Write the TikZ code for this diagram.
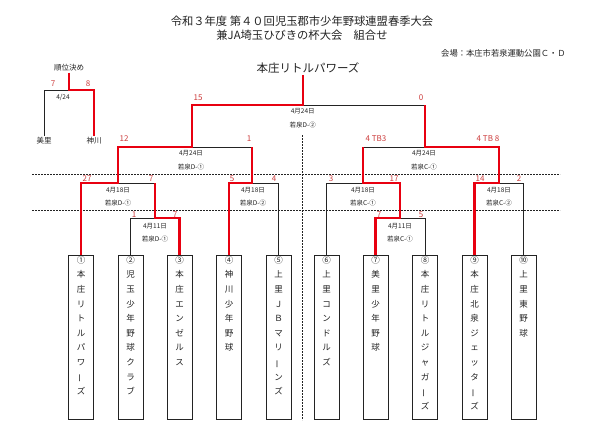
\documentclass[tikz,border=0pt]{standalone}
\usepackage{fontspec}
\setmainfont{Noto Sans CJK JP}
\usepackage{graphicx}
\definecolor{lred}{RGB}{232,0,16}
\definecolor{sred}{RGB}{205,60,60}
\definecolor{ink}{RGB}{35,35,35}
\newcommand\vchoon{\rotatebox[origin=c]{90}{ー}}
\begin{document}
\begin{tikzpicture}[x=1pt,y=-1pt,
  redline/.style={draw=lred,line width=2.3pt},
  blkline/.style={draw=ink,line width=1pt},
  dashline/.style={draw=ink,line width=0.7pt,dash pattern=on 2pt off 1pt},
  teambox/.style={draw=ink,line width=1pt,minimum width=25pt,minimum height=164pt,inner sep=0},
  teamtext/.style={anchor=north,inner sep=0,align=center,font=\fontsize{8.5}{14.6}\selectfont,text=ink},
  score/.style={text=sred,font=\fontsize{8}{9}\selectfont,inner sep=0},
  info/.style={text=ink,font=\fontsize{6.5}{8}\selectfont,inner sep=0},
  small/.style={text=ink,font=\fontsize{7.5}{9}\selectfont,inner sep=1pt}
]
\useasboundingbox[fill=white] (0,0) rectangle (600,440);

% dashed guide lines
\draw[dashline] (32,174.3) -- (560,174.3);
\draw[dashline] (32,210) -- (560,210);
\draw[dashline] (302.7,135) -- (302.7,420);

% titles
\node[text=ink,font=\fontsize{11.3}{13}\selectfont,inner sep=0] (title1) at (302,21.7) {令和３年度 第４０回児玉郡市少年野球連盟春季大会};
\node[text=ink,font=\fontsize{11.3}{13}\selectfont,inner sep=0] (title2) at (302,35) {兼JA埼玉ひびきの杯大会　組合せ};
\node[text=ink,font=\fontsize{8.3}{10}\selectfont,inner sep=0,anchor=west] (venue) at (441,53.3) {会場：本庄市若泉運動公園Ｃ・Ｄ};
\node[text=ink,font=\fontsize{11.5}{13}\selectfont,inner sep=1pt] (winner) at (308,68) {本庄リトルパワーズ};

% team boxes
\node[teambox] (t1) at (81,337) {};
\node[teambox] (t2) at (130.5,337) {};
\node[teambox] (t3) at (179.5,337) {};
\node[teambox] (t4) at (229,337) {};
\node[teambox] (t5) at (278.5,337) {};
\node[teambox] (t6) at (326.5,337) {};
\node[teambox] (t7) at (375.5,337) {};
\node[teambox] (t8) at (425,337) {};
\node[teambox] (t9) at (474.5,337) {};
\node[teambox] (t10) at (523.5,337) {};

\node[teamtext] (n1) at (81,256) {①\\本\\庄\\リ\\ト\\ル\\パ\\ワ\\\vchoon\\ズ};
\node[teamtext] (n2) at (130.5,256) {②\\児\\玉\\少\\年\\野\\球\\ク\\ラ\\ブ};
\node[teamtext] (n3) at (179.5,256) {③\\本\\庄\\エ\\ン\\ゼ\\ル\\ス};
\node[teamtext] (n4) at (229,256) {④\\神\\川\\少\\年\\野\\球};
\node[teamtext] (n5) at (278.5,256) {⑤\\上\\里\\Ｊ\\Ｂ\\マ\\リ\\\vchoon\\ン\\ズ};
\node[teamtext] (n6) at (326.5,256) {⑥\\上\\里\\コ\\ン\\ド\\ル\\ズ};
\node[teamtext] (n7) at (375.5,256) {⑦\\美\\里\\少\\年\\野\\球};
\node[teamtext] (n8) at (425,256) {⑧\\本\\庄\\リ\\ト\\ル\\ジ\\ャ\\ガ\\\vchoon\\ズ};
\node[teamtext] (n9) at (474.5,256) {⑨\\本\\庄\\北\\泉\\ジ\\ェ\\ッ\\タ\\\vchoon\\ズ};
\node[teamtext] (n10) at (523.5,256) {⑩\\上\\里\\東\\野\\球};

% placement match
\node[small] (juni) at (69,68) {順位決め};
\node[small] (misato) at (44,140.5) {美里};
\node[small] (kamikawa) at (94,140.5) {神川};
\coordinate (jA) at (69,90);

% junctions
\coordinate (j11L) at (155,218);
\coordinate (j18L1) at (118,183);
\coordinate (j18L2) at (252,183);
\coordinate (j24L) at (192,147);
\coordinate (jF) at (302.7,105);
\coordinate (j24R) at (425,147);
\coordinate (j18R1) at (363,183);
\coordinate (j11R) at (400,218);
\coordinate (j18R2) at (499,183);

% black (losing) lines
\draw[blkline] (jA) -| (misato.north);
\draw[blkline] (t2.north) |- (j11L);
\draw[blkline] (j18L1) -| (j11L);
\draw[blkline] (t5.north) |- (j18L2);
\draw[blkline] (j24L) -| (j18L2);
\draw[blkline] (jF) -| (j24R);
\draw[blkline] (j24R) -| (j18R1);
\draw[blkline] (t6.north) |- (j18R1);
\draw[blkline] (j11R) -| (t8.north);
\draw[blkline] (j18R2) -| (t10.north);

% red (winning) lines
\draw[redline] (juni.south) -- (jA) -| (kamikawa.north);
\draw[redline] (t3.north) |- (j11L) -- (j11L |- j18L1);
\draw[redline] (t1.north) |- (j18L1) -- (j18L1 |- j24L) -- (j24L) -- (j24L |- jF) -- (jF) -- (jF |- winner.south);
\draw[redline] (t4.north) |- (j18L2) -- (j18L2 |- j24L);
\draw[redline] (t7.north) |- (j11R) -- (j11R |- j18R1) -- (j18R1) -- (j18R1 |- j24R);
\draw[redline] (t9.north) |- (j18R2) -- (j18R2 |- j24R) -- (j24R) -- (j24R |- jF);

% scores
\node[score] (sA1) at (53,84) {7};
\node[score] (sA2) at (88,84) {8};
\node[score] (sF1) at (198,98) {15};
\node[score] (sF2) at (421,98) {0};
\node[score] (sL1) at (124,139) {12};
\node[score] (sL2) at (249,139) {1};
\node[score] (sR1) at (376,139) {4 TB3};
\node[score] (sR2) at (488,139) {4 TB 8};
\node[score] (s1) at (87,178.5) {27};
\node[score] (s2) at (151,178.5) {7};
\node[score] (s3) at (232,178.5) {5};
\node[score] (s4) at (274,178.5) {4};
\node[score] (s5) at (331,178.5) {3};
\node[score] (s6) at (394,178.5) {17};
\node[score] (s7) at (480,178.5) {14};
\node[score] (s8) at (519,178.5) {2};
\node[score] (s9) at (134,214.3) {1};
\node[score] (s10) at (175,214.3) {7};
\node[score] (s11) at (379,214.3) {7};
\node[score] (s12) at (421,214.3) {5};

% dates and fields
\node[info] (dA) at (63,97) {4/24};
\node[info] (dF) at (302.7,111.7) {4月24日};
\node[info] (fF) at (302.7,125) {若泉D-②};
\node[info] (dL) at (191,153) {4月24日};
\node[info] (fL) at (191,167) {若泉D-①};
\node[info] (dR) at (424,153) {4月24日};
\node[info] (fR) at (424,167) {若泉C-①};
\node[info] (d1) at (118,190) {4月18日};
\node[info] (f1) at (118,203) {若泉D-①};
\node[info] (d2) at (253,190) {4月18日};
\node[info] (f2) at (253,203) {若泉D-②};
\node[info] (d3) at (363,190) {4月18日};
\node[info] (f3) at (363,203) {若泉C-①};
\node[info] (d4) at (499,190) {4月18日};
\node[info] (f4) at (499,203) {若泉C-②};
\node[info] (d5) at (155,226) {4月11日};
\node[info] (f5) at (155,239) {若泉D-①};
\node[info] (d6) at (400,226) {4月11日};
\node[info] (f6) at (400,239) {若泉C-①};
\end{tikzpicture}
\end{document}
